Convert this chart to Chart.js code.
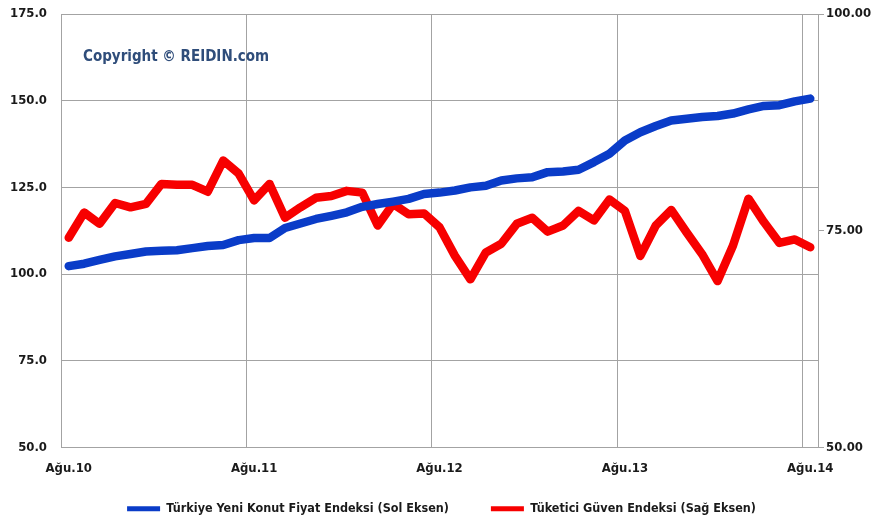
<!DOCTYPE html>
<html>
<head>
<meta charset="utf-8">
<script src="https://cdn.jsdelivr.net/npm/chart.js@4.4.1/dist/chart.umd.min.js"></script>
<style>
  html, body { margin: 0; padding: 0; background: #fff; }
  #wrap { width: 875px; height: 527px; }
</style>
</head>
<body>
<div id="wrap"><canvas id="chart" width="875" height="527"></canvas></div>
<script>
// aylar: Ağu.10 -> Ağu.14
const monthNames = ["Ağu", "Eyl", "Eki", "Kas", "Ara", "Oca", "Şub", "Mar", "Nis", "May", "Haz", "Tem"];
const startYear = 10;
const monthCount = 49;

// Türkiye Yeni Konut Fiyat Endeksi (sol eksen)
const konutEndeksi = [
    102.3, 103.0, 104.1, 105.1, 105.8, 106.5, 106.7, 106.9, 107.5, 108.1, 108.4, 109.8,
    110.4, 110.4, 113.3, 114.6, 115.9, 116.8, 117.8, 119.4, 120.2, 120.9, 121.7, 123.1,
    123.5, 124.1, 125.0, 125.5, 127.0, 127.6, 127.9, 129.4, 129.6, 130.1, 132.3, 134.7,
    138.5, 140.9, 142.7, 144.3, 144.8, 145.3, 145.6, 146.3, 147.5, 148.5, 148.7, 149.8,
    150.6
];

// Tüketici Güven Endeksi (sağ eksen)
const guvenEndeksi = [
    74.2, 77.1, 75.8, 78.2, 77.7, 78.1, 80.4, 80.3, 80.3, 79.5, 83.1, 81.6,
    78.5, 80.4, 76.5, 77.7, 78.8, 79.0, 79.6, 79.4, 75.6, 78.1, 76.9, 77.0,
    75.4, 72.1, 69.4, 72.5, 73.5, 75.8, 76.5, 74.9, 75.6, 77.3, 76.2, 78.6,
    77.3, 72.1, 75.6, 77.4, 74.8, 72.3, 69.2, 73.3, 78.7, 76.0, 73.6, 74.0,
    73.1
];

const leftTicks = [50, 75, 100, 125, 150, 175];
const rightTicks = [50, 75, 100];

const labels = [];
for (let i = 0; i < monthCount; i++) {
    labels.push(monthNames[i % 12] + "." + (startYear + Math.floor((i + 7) / 12)));
}

const gridColor = "#a3a3a3";
const fontFamily = "'DejaVu Sans Condensed', sans-serif";

// Copyright yazısı
const copyrightPlugin = {
    id: "copyright",
    beforeDatasetsDraw(chart) {
        const ctx = chart.ctx;
        ctx.save();
        ctx.font = "bold 15px " + fontFamily;
        ctx.fillStyle = "#2f4d7a";
        ctx.textBaseline = "middle";
        ctx.fillText("Copyright © REIDIN.com", 83, 57);
        ctx.restore();
    }
};

new Chart(document.getElementById("chart"), {
    type: "line",
    data: {
        labels: labels,
        datasets: [
            {
                label: "Türkiye Yeni Konut Fiyat Endeksi (Sol Eksen)",
                data: konutEndeksi,
                borderColor: "#0a3cc8",
                backgroundColor: "#0a3cc8",
                borderWidth: 8.5,
                pointRadius: 0,
                borderJoinStyle: "round",
                borderCapStyle: "round",
                yAxisID: "y"
            },
            {
                label: "Tüketici Güven Endeksi (Sağ Eksen)",
                data: guvenEndeksi,
                borderColor: "#f70000",
                backgroundColor: "#f70000",
                borderWidth: 8.5,
                pointRadius: 0,
                borderJoinStyle: "round",
                borderCapStyle: "round",
                yAxisID: "y1"
            }
        ]
    },
    options: {
        responsive: false,
        animation: false,
        layout: { padding: { top: 14, left: 8, right: 0, bottom: 2 } },
        plugins: {
            tooltip: { enabled: false },
            legend: {
                position: "bottom",
                labels: {
                    boxWidth: 33,
                    boxHeight: 5,
                    padding: 42,
                    color: "#1a1a1a",
                    font: { family: fontFamily, size: 12.5, weight: "bold" },
                    generateLabels(chart) {
                        return Chart.defaults.plugins.legend.labels.generateLabels(chart).map(l => {
                            l.lineWidth = 0;
                            return l;
                        });
                    }
                }
            }
        },
        scales: {
            x: {
                type: "category",
                offset: true,
                grid: {
                    offset: true,
                    drawTicks: false,
                    color: ctx => (ctx.index % 12 === 0 && ctx.index < monthCount) ? gridColor : "rgba(0,0,0,0)"
                },
                border: { display: true, color: gridColor },
                ticks: {
                    autoSkip: false,
                    maxRotation: 0,
                    padding: 13,
                    color: "#1a1a1a",
                    font: { family: fontFamily, size: 13, weight: "bold" },
                    callback: function (v) {
                        const l = this.getLabelForValue(v);
                        return l.indexOf("Ağu") === 0 ? l : "";
                    }
                },
                afterFit: s => {
                    s.height = 13;
                    // etiketler eksen kutusunun altına taşabilir
                    s._computeLabelArea = () => undefined;
                }
            },
            y: {
                position: "left",
                min: 50,
                max: 175,
                afterBuildTicks: s => { s.ticks = leftTicks.map(v => ({ value: v })); },
                grid: { color: gridColor, drawTicks: false },
                border: { display: true, color: gridColor },
                ticks: {
                    padding: 14,
                    color: "#1a1a1a",
                    font: { family: fontFamily, size: 13, weight: "bold" },
                    callback: v => v.toFixed(1)
                },
                afterFit: s => { s.width = 53; s.paddingTop = 0; s.paddingBottom = 0; }
            },
            y1: {
                position: "right",
                min: 50,
                max: 100,
                afterBuildTicks: s => { s.ticks = rightTicks.map(v => ({ value: v })); },
                grid: { drawOnChartArea: false, color: gridColor, tickLength: 6 },
                border: { display: true, color: gridColor },
                ticks: {
                    padding: 2,
                    color: "#1a1a1a",
                    font: { family: fontFamily, size: 13, weight: "bold" },
                    callback: v => v.toFixed(2)
                },
                afterFit: s => { s.width = 57; s.paddingTop = 0; s.paddingBottom = 0; }
            }
        }
    },
    plugins: [copyrightPlugin]
});
</script>
</body>
</html>
